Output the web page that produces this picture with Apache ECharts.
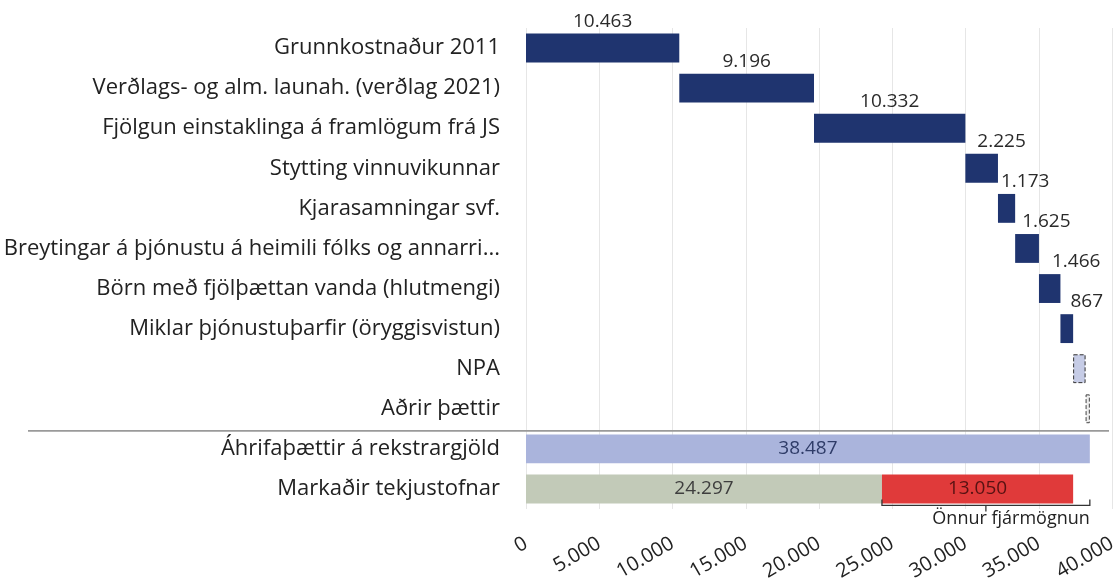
<!DOCTYPE html>
<html>
<head>
<meta charset="utf-8">
<script src="https://cdn.jsdelivr.net/npm/echarts@6/dist/echarts.min.js"></script>
<style>html,body{margin:0;padding:0;background:#fff;}#c{width:1114px;height:582px;}</style>
</head>
<body>
<div id="c"></div>
<script>
// ---- data ----
var categories = [
  'Grunnkostnaður 2011',
  'Verðlags- og alm. launah. (verðlag 2021)',
  'Fjölgun einstaklinga á framlögum frá JS',
  'Stytting vinnuvikunnar',
  'Kjarasamningar svf.',
  'Breytingar á þjónustu á heimili fólks og annarri...',
  'Börn með fjölþættan vanda (hlutmengi)',
  'Miklar þjónustuþarfir (öryggisvistun)',
  'NPA',
  'Aðrir þættir',
  'Áhrifaþættir á rekstrargjöld',
  'Markaðir tekjustofnar'
];
var stepValues = [10463, 9196, 10332, 2225, 1173, 1625, 1466, 867, 850, 290];
var totalExpense = 38487;
var earmarkedRevenue = 24297;
var otherFunding = 13050;
var otherFundingLabel = 'Önnur fjármögnun';
var xTicks = [0, 5000, 10000, 15000, 20000, 25000, 30000, 35000, 40000];

// ---- styling (label offsets for the narrow step bars, rows 3..7) ----
var smallLabelOffsets = { 3: 12, 4: 3, 5: 7, 6: 13, 7: 10 };

function fmt(v) { return String(v).replace(/\B(?=(\d{3})+(?!\d))/g, '.'); }
var FONT = "'Open Sans', 'Noto Sans', sans-serif";
var nRows = categories.length;
var idxTotal = 10, idxMark = 11, idxOther = 9;

var baseData = [], stepData = [], totalData = [], greenData = [], redData = [];
var run = 0;
for (var i = 0; i < nRows; i++) {
  if (i < stepValues.length) {
    baseData.push(run);
    var item = { value: stepValues[i] };
    if (smallLabelOffsets[i] !== undefined) {
      item.label = { position: [smallLabelOffsets[i], -3], align: 'left', verticalAlign: 'bottom' };
    }
    if (i === 8) {
      item.itemStyle = { color: '#c6cce6', borderColor: '#333', borderWidth: 1, borderType: 'dashed' };
      item.label = { show: false };
    }
    if (i === 9) {
      item.itemStyle = { color: '#eeeeee', borderColor: '#444', borderWidth: 1, borderType: 'dashed' };
      item.label = { show: false };
    }
    stepData.push(item);
    run += stepValues[i];
  } else {
    baseData.push(0);
    stepData.push('-');
  }
  totalData.push(i === idxTotal ? totalExpense : '-');
  greenData.push(i === idxMark ? earmarkedRevenue : '-');
  redData.push(i === idxMark ? otherFunding : '-');
}

var chart = echarts.init(document.getElementById('c'), null, { renderer: 'canvas' });
var BW = '72%';
var option = {
  animation: false,
  backgroundColor: '#ffffff',
  grid: { left: 526, right: 2, top: 28, bottom: 73, containLabel: false, outerBoundsMode: 'none' },
  xAxis: {
    type: 'value', min: xTicks[0], max: xTicks[xTicks.length - 1], interval: xTicks[1] - xTicks[0],
    axisLine: { show: false }, axisTick: { show: false },
    splitLine: { show: true, lineStyle: { color: '#e6e6e6', width: 1 } },
    axisLabel: { rotate: 30, margin: 33, fontSize: 20, color: '#222', fontFamily: FONT, formatter: fmt, hideOverlap: false }
  },
  yAxis: {
    type: 'category', inverse: true, data: categories,
    axisLine: { show: false }, axisTick: { show: false }, splitLine: { show: false },
    axisLabel: { fontSize: 22, color: '#222', margin: 26, fontFamily: FONT }
  },
  series: [
    { type: 'bar', name: 'base', stack: 'w', barWidth: BW, data: baseData,
      itemStyle: { color: 'rgba(0,0,0,0)' }, silent: true, label: { show: false } },
    { type: 'bar', name: 'steps', stack: 'w', barWidth: BW, data: stepData,
      itemStyle: { color: '#1f346f' },
      label: { show: true, position: 'top', distance: 3, fontSize: 19, color: '#2a2a2a', fontFamily: FONT,
        formatter: function (p) { return fmt(p.value); } } },
    { type: 'bar', name: 'total', stack: 'w', barWidth: BW, data: totalData,
      itemStyle: { color: '#aab4dc' },
      label: { show: true, position: 'inside', fontSize: 19, color: '#2f3c68', fontFamily: FONT,
        formatter: function (p) { return fmt(p.value); } } },
    { type: 'bar', name: 'earmarked', stack: 'w', barWidth: BW, data: greenData,
      itemStyle: { color: '#c2cab8' },
      label: { show: true, position: 'inside', fontSize: 19, color: '#3e3e3e', fontFamily: FONT,
        formatter: function (p) { return fmt(p.value); } } },
    { type: 'bar', name: 'other', stack: 'w', barWidth: BW, data: redData,
      itemStyle: { color: '#e03a3a' },
      label: { show: true, position: 'inside', fontSize: 19, color: '#571212', fontFamily: FONT,
        formatter: function (p) { return fmt(p.value); } } },
    { type: 'custom', name: 'separator', clip: false, silent: true, z: 5,
      data: [[0, idxOther]],
      encode: { x: 0, y: 1 },
      renderItem: function (params, api) {
        var p = api.coord([api.value(0), api.value(1)]);
        var band = api.size([0, 1])[1];
        var y = p[1] + band / 2 + 2;
        var cs = params.coordSys;
        return { type: 'line', shape: { x1: 28, y1: y, x2: cs.x + cs.width - 3, y2: y },
          style: { stroke: '#9a9a9a', lineWidth: 1.6 } };
      } },
    { type: 'custom', name: 'bracket', clip: false, silent: true, z: 5,
      data: [[earmarkedRevenue, idxMark, totalExpense]],
      encode: { x: [0, 2], y: 1 },
      renderItem: function (params, api) {
        var a = api.coord([api.value(0), api.value(1)]);
        var b = api.coord([api.value(2), api.value(1)]);
        var band = api.size([0, 1])[1];
        var y = a[1] + band * 0.36 + 2;
        var mid = (a[0] + b[0]) / 2;
        return { type: 'group', children: [
          { type: 'polyline', shape: { points: [[a[0], y - 6], [a[0], y], [b[0], y], [b[0], y - 6]] },
            style: { stroke: '#333', lineWidth: 1.3, fill: null } },
          { type: 'line', shape: { x1: mid, y1: y, x2: mid, y2: y + 6 },
            style: { stroke: '#333', lineWidth: 1.3 } },
          { type: 'text', style: { text: otherFundingLabel, x: b[0], y: y + 4, align: 'right', verticalAlign: 'top',
            fontSize: 18, fontFamily: FONT, fill: '#222' } }
        ] };
      } }
  ]
};
chart.setOption(option);
</script>
</body>
</html>
